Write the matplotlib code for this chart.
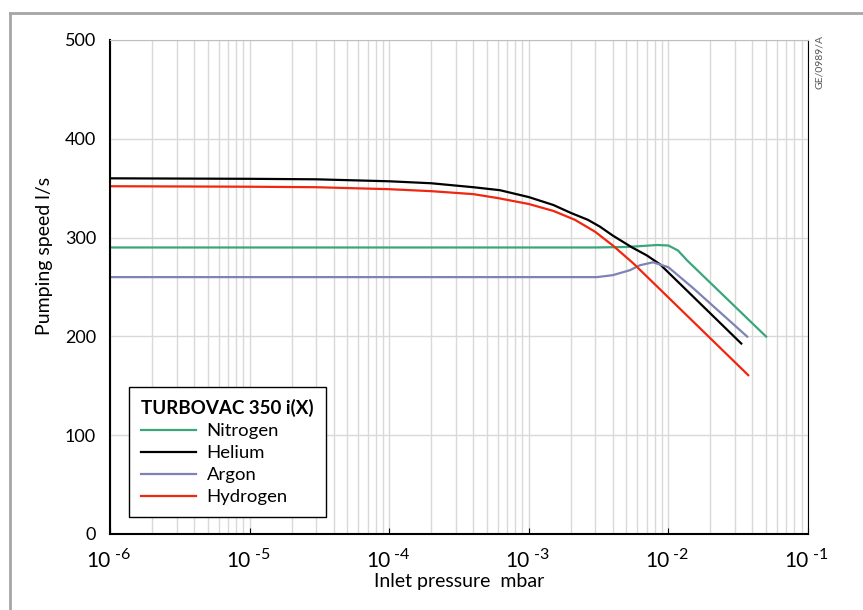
import matplotlib
matplotlib.use("Agg")
import matplotlib.pyplot as plt
import matplotlib.transforms as mtransforms
from matplotlib.lines import Line2D
from matplotlib.ticker import LogLocator, NullFormatter, FixedLocator
import numpy as np

plt.rcParams["font.family"] = ["Lato", "DejaVu Sans"]

# values (pressure in mbar, pumping speed in l/s)
n2_p = [1e-6, 1e-4, 1e-3, 3e-3, 5e-3, 6.5e-3, 8.3e-3, 1.0e-2, 1.17e-2, 1.36e-2, 5.08e-2]
n2_s = [290, 290, 290, 290, 290.5, 291.5, 292.5, 292, 287, 277, 199]

he_p = [1e-6, 1e-5, 3e-5, 1e-4, 2e-4, 4e-4, 6.2e-4, 1e-3, 1.5e-3, 2e-3, 2.65e-3, 3.24e-3,
        4e-3, 5.5e-3, 7e-3, 8.7e-3, 3.37e-2]
he_s = [360, 359.5, 359, 357, 355, 351, 348, 341, 333, 325, 318, 311, 302, 290, 282, 273, 192]

ar_p = [1e-6, 1e-4, 1e-3, 3.08e-3, 4.0e-3, 5.3e-3, 6.25e-3, 7.76e-3, 1.0e-2, 1.5e-2, 3.72e-2]
ar_s = [260, 260, 260, 260, 262, 267, 272, 275, 270, 249, 199]

h2_p = [1e-6, 1e-5, 3e-5, 1e-4, 2e-4, 4e-4, 6e-4, 1e-3, 1.5e-3, 2.14e-3, 2.98e-3,
        4e-3, 5.6e-3, 3.78e-2]
h2_s = [352, 351.5, 351, 349, 347, 344, 340, 334, 327, 318, 306, 292, 274, 160]

x_decades = [-6, -5, -4, -3, -2, -1]

series = [
    ("Nitrogen", n2_p, n2_s, "#3aa67a"),
    ("Helium", he_p, he_s, "#000000"),
    ("Argon", ar_p, ar_s, "#7f82b5"),
    ("Hydrogen", h2_p, h2_s, "#f0260f"),
]

fig = plt.figure(figsize=(8.63, 6.10), dpi=100)
ax = fig.add_axes([110 / 863, 1 - 534 / 610, 698 / 863, 494 / 610])

for name, p, s, c in series:
    ax.plot(p, s, color=c, lw=1.6, label=name, solid_capstyle="butt")

ax.set_xscale("log")
ax.set_xlim(1e-6, 1e-1)
ax.set_ylim(0, 500)
ax.xaxis.set_major_locator(FixedLocator([10.0 ** d for d in x_decades]))
ax.xaxis.set_minor_locator(LogLocator(base=10, subs=np.arange(2, 10), numticks=20))
ax.xaxis.set_major_formatter(NullFormatter())
ax.xaxis.set_minor_formatter(NullFormatter())
ax.yaxis.set_major_locator(FixedLocator([0, 100, 200, 300, 400, 500]))

ax.grid(True, which="major", color="#d9d9d9", lw=1.0)
ax.grid(True, which="minor", axis="x", color="#d9d9d9", lw=1.0)
ax.set_axisbelow(True)

ax.tick_params(axis="x", which="major", direction="in", length=4, color="black")
ax.tick_params(axis="x", which="minor", length=0)
ax.tick_params(axis="y", length=0, labelsize=13, pad=10)

# x tick labels drawn as "10" with a raised exponent, like the original
base_tr = ax.get_xaxis_transform()
tr_base = mtransforms.offset_copy(base_tr, fig, x=1, y=-33, units="dots")
tr_exp = mtransforms.offset_copy(base_tr, fig, x=5, y=-25, units="dots")
for d in x_decades:
    ax.text(10.0 ** d, 0, "10", transform=tr_base, ha="right", va="baseline",
            fontsize=15, clip_on=False)
    ax.text(10.0 ** d, 0, "-%d" % (-d), transform=tr_exp, ha="left", va="baseline",
            fontsize=11.5, clip_on=False)

for side in ("left", "bottom"):
    ax.spines[side].set_color("black")
    ax.spines[side].set_linewidth(1.5)
ax.spines["top"].set_color("#bfbfbf")
ax.spines["right"].set_color("black")
ax.spines["right"].set_linewidth(0.8)

ax.set_xlabel("Inlet pressure  mbar", fontsize=14)
ax.xaxis.set_label_coords(0.5, (534 - 573) / 494)
ax.set_ylabel("Pumping speed l/s", fontsize=14)
ax.yaxis.set_label_coords((53 - 110) / 698, (534 - 256) / 494)

handles = [Line2D([], [], color=c, lw=1.6) for _, _, _, c in series]
labels = [name for name, _, _, _ in series]
leg = ax.legend(handles, labels, title="TURBOVAC 350 i(X)", alignment="left",
                loc="lower left", fontsize=13.3, title_fontsize=13.5,
                frameon=True, fancybox=False, edgecolor="black", framealpha=1,
                handlelength=3.0, handletextpad=0.55, labelspacing=0.32,
                borderpad=0.65, borderaxespad=0)
leg.get_title().set_fontweight("bold")
leg.get_frame().set_linewidth(1.0)
leg.set_bbox_to_anchor((129 / 863, 1 - 517 / 610), transform=fig.transFigure)

fig.text(819 / 863, 1 - 62 / 610, "GE/0989/A", rotation=90, fontsize=7.5,
         color="#555555", ha="center", va="center")

# grey frame of the scanned page
fig.add_artist(Line2D([10 / 863, 10 / 863], [0, 1 - 13 / 610], transform=fig.transFigure,
                      color="#a6a6a6", lw=2))
fig.add_artist(Line2D([10 / 863, 1], [1 - 13 / 610, 1 - 13 / 610], transform=fig.transFigure,
                      color="#a6a6a6", lw=2))

fig.savefig("out.png", dpi=100)
